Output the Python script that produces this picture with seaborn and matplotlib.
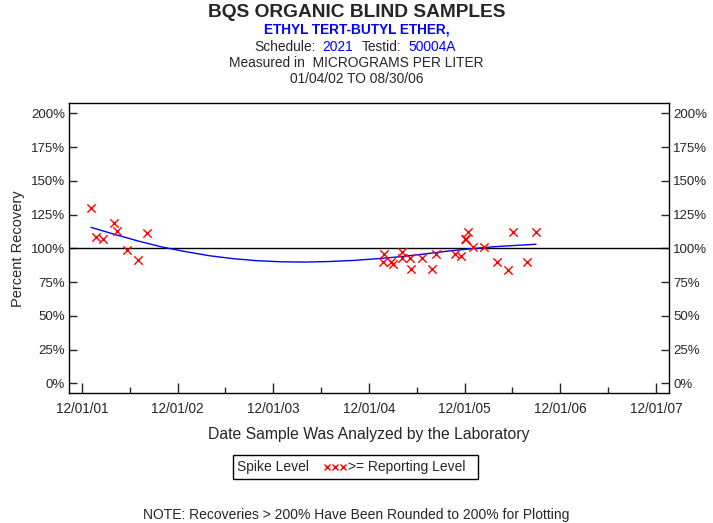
import numpy as np
import pandas as pd
import matplotlib
matplotlib.use("Agg")
import matplotlib.pyplot as plt
import matplotlib.dates as mdates
from matplotlib.patches import Rectangle
import seaborn as sns

# sample dates and percent recovery
sample_dates = [
    "2002-01-04", "2002-01-22", "2002-02-19", "2002-04-02", "2002-04-15",
    "2002-05-21", "2002-07-01", "2002-08-05",
    "2005-01-28", "2005-01-24", "2005-03-01", "2005-02-23", "2005-04-06",
    "2005-04-04", "2005-05-07", "2005-05-09", "2005-06-20", "2005-07-28",
    "2005-08-13", "2005-10-26", "2005-11-16", "2005-12-01", "2005-12-04",
    "2005-12-14", "2006-01-02", "2006-02-13", "2006-04-04", "2006-05-16",
    "2006-06-04", "2006-07-26", "2006-08-30",
]
recovery = [
    130, 108, 107, 119, 113,
    99, 91, 111,
    96, 90, 88, 90, 97,
    93, 93, 85, 93, 85,
    96, 96, 94, 107, 107,
    112, 101, 101, 90, 84,
    112, 90, 112,
]

# smoothed trend line
trend_dates = [
    "2002-01-04", "2002-04-01", "2002-07-01", "2002-10-01", "2003-01-01",
    "2003-04-01", "2003-07-01", "2003-10-01", "2004-01-01", "2004-04-01",
    "2004-07-01", "2004-10-01", "2005-01-01", "2005-04-01", "2005-07-01",
    "2005-10-01", "2006-01-01", "2006-04-01", "2006-08-30",
]
trend_vals = [
    115.5, 110.5, 105.5, 101.0, 97.5,
    94.5, 92.3, 90.8, 90.0, 89.8,
    90.2, 91.0, 92.3, 93.8, 95.8,
    98.0, 99.8, 101.3, 103.0,
]

y_ticks = [0, 25, 50, 75, 100, 125, 150, 175, 200]
x_ticks = ["2001-12-01", "2002-12-01", "2003-12-01", "2004-12-01",
           "2005-12-01", "2006-12-01", "2007-12-01"]
x_minor = ["2002-06-01", "2003-06-01", "2004-06-01", "2005-06-01",
           "2006-06-01", "2007-06-01"]

pts = pd.DataFrame({"date": pd.to_datetime(sample_dates), "pct": recovery})
trend = pd.DataFrame({"date": pd.to_datetime(trend_dates), "pct": trend_vals})

sns.set_style("white")
plt.rcParams["font.family"] = ["Liberation Sans", "DejaVu Sans"]

W, H = 713, 523
fig = plt.figure(figsize=(W / 100, H / 100), dpi=100)
ax = fig.add_axes([0.0968, 0.248, 0.8415, 0.5545])

ax.axhline(100, color="black", lw=1, zorder=1)
sns.lineplot(data=trend, x="date", y="pct", ax=ax, color="blue", lw=1,
             zorder=2, legend=False)
sns.scatterplot(data=pts, x="date", y="pct", ax=ax, marker="x", color="red",
                s=36, linewidth=1, zorder=3, legend=False)

ax.set_xlim(pd.Timestamp("2001-10-12"), pd.Timestamp("2008-01-20"))
ax.set_ylim(-7.4, 207.4)

ax.set_xticks(pd.to_datetime(x_ticks))
ax.set_xticks(pd.to_datetime(x_minor), minor=True)
ax.xaxis.set_major_formatter(mdates.DateFormatter("%m/%d/%y"))
ax.set_yticks(y_ticks)
ax.set_yticklabels([f"{v}%" for v in y_ticks])
ax.tick_params(axis="x", which="major", direction="in", length=7, width=1,
               labelsize=9.8, pad=6, bottom=True)
ax.tick_params(axis="x", which="minor", direction="in", length=4, width=1,
               bottom=True)
ax.tick_params(axis="y", direction="in", length=6, width=1, labelsize=9.5,
               left=True, right=True, labelleft=True, labelright=True, pad=3)

for sp in ax.spines.values():
    sp.set_color("black")
    sp.set_linewidth(1)

ax.set_xlabel("Date Sample Was Analyzed by the Laboratory", fontsize=11.3,
              labelpad=8)
ax.set_ylabel("Percent Recovery", fontsize=10.5, labelpad=4)

# header text
fig.text(0.5, 0.977, "BQS ORGANIC BLIND SAMPLES", ha="center", va="center",
         fontsize=13.8, fontweight="bold")
fig.text(0.5, 0.943, "ETHYL TERT-BUTYL ETHER,", ha="center", va="center",
         fontsize=9.8, fontweight="bold", color="blue")
y3 = 0.911
fig.text(254 / W, y3, "Schedule:", ha="left", va="center", fontsize=9.9)
fig.text(322 / W, y3, "2021", ha="left", va="center", fontsize=9.9,
         color="blue")
fig.text(362 / W, y3, "Testid:", ha="left", va="center", fontsize=9.9)
fig.text(408 / W, y3, "50004A", ha="left", va="center", fontsize=9.9,
         color="blue")
fig.text(0.5, 0.880, "Measured in  MICROGRAMS PER LITER", ha="center",
         va="center", fontsize=9.9)
fig.text(0.5, 0.849, "01/04/02 TO 08/30/06", ha="center", va="center",
         fontsize=9.9)

# legend box
fig.patches.append(Rectangle((233 / W, 1 - 479 / H), 245 / W, 24 / H,
                             transform=fig.transFigure, fill=False,
                             edgecolor="black", lw=1))
ly = 1 - 467 / H
fig.text(237 / W, ly, "Spike Level", ha="left", va="center", fontsize=10)
for xp in (327, 335, 343):
    fig.lines.append(plt.Line2D([xp / W], [ly], marker="x", color="red",
                                markersize=4.5, mew=1, ls="none",
                                transform=fig.transFigure))
fig.text(348 / W, ly, ">= Reporting Level", ha="left", va="center",
         fontsize=10)

fig.text(0.5, 1 - 515 / H,
         "NOTE: Recoveries > 200% Have Been Rounded to 200% for Plotting",
         ha="center", va="center", fontsize=10)

fig.savefig("out.png", dpi=100, facecolor="white")
